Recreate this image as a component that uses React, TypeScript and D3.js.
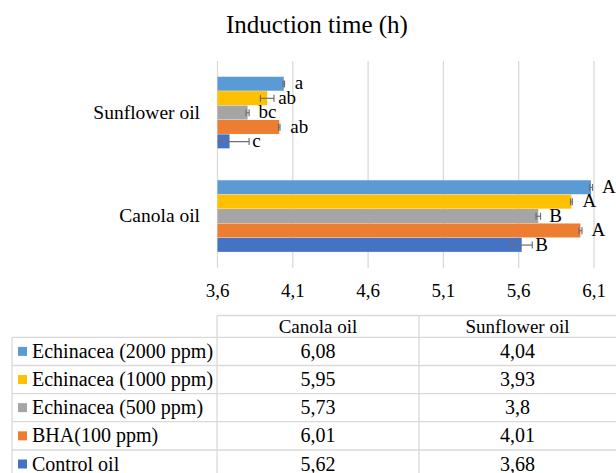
import React from 'react';
import * as d3 from 'd3';

// categories as drawn, top to bottom
const oils = ['Sunflower oil', 'Canola oil'];
// series, top to bottom within a group (same order as the table)
const treatments = ['Echinacea (2000 ppm)', 'Echinacea (1000 ppm)', 'Echinacea (500 ppm)', 'BHA(100 ppm)', 'Control oil'];
const colors = ['#5B9BD5', '#FFC000', '#A5A5A5', '#ED7D31', '#4472C4'];

const canolaValues = [6.08, 5.95, 5.73, 6.01, 5.62];
const sunflowerValues = [4.04, 3.93, 3.8, 4.01, 3.68];
const canolaErrors = [0.01, 0.006, 0.015, 0.01, 0.07];
const sunflowerErrors = [0.005, 0.045, 0.01, 0.005, 0.13];
const canolaLetters = ['A', 'A', 'B', 'A', 'B'];
const sunflowerLetters = ['a', 'ab', 'bc', 'ab', 'c'];

const canolaLabels = ['6,08', '5,95', '5,73', '6,01', '5,62'];
const sunflowerLabels = ['4,04', '3,93', '3,8', '4,01', '3,68'];

const xTicks = [3.6, 4.1, 4.6, 5.1, 5.6, 6.1];

const font = 'Liberation Serif';

function T(props) {
    const {children, ...rest} = props;
    return <text fontFamily={font} style={{fontFamily: font}} fill='#000' {...rest}>{children}</text>;
}

export default function App() {
    const width = 616, height = 473;
    const plot = {left: 217.5, right: 594, top: 61, bottom: 268};

    const x = d3.scaleLinear().domain([3.6, 6.1]).range([plot.left, plot.right]);
    const y = d3.scaleBand().domain(oils).range([plot.top, plot.bottom])
        .paddingInner(0.3043).paddingOuter(0.152);
    const sub = d3.scaleBand().domain(treatments).range([0, y.bandwidth()]);

    const dataFor = (oil) => oil === 'Canola oil'
        ? {vals: canolaValues, errs: canolaErrors, letters: canolaLetters}
        : {vals: sunflowerValues, errs: sunflowerErrors, letters: sunflowerLetters};

    const fmt = (v) => String(v).replace('.', ',');

    // table geometry
    const colX = [12, 217, 419, 616];
    const rowY = [315.5, 337.3, 365.5, 393.6, 421.7, 450, 478];
    const lineColor = '#d9d9d9';

    return (
        <div style={{fontFamily: font}}>
            <style>{'body{margin:0}'}</style>
            <svg width={width} height={height} style={{display: 'block', background: '#fff'}}>
                <T x={317} y={33} textAnchor='middle' fontSize={25}>Induction time (h)</T>

                {xTicks.map(t => (
                    <g key={t}>
                        <line x1={x(t)} x2={x(t)} y1={plot.top} y2={plot.bottom} stroke={lineColor} strokeWidth={1.3}/>
                        <T x={x(t)} y={297} textAnchor='middle' fontSize={19}>{fmt(t)}</T>
                    </g>
                ))}

                {oils.map(oil => {
                    const d = dataFor(oil);
                    const y0 = y(oil);
                    return (
                        <g key={oil}>
                            <T x={200} y={y0 + y.bandwidth() / 2 + 6} textAnchor='end' fontSize={19.5}>{oil}</T>
                            {treatments.map((tr, i) => {
                                const by = y0 + sub(tr);
                                const bh = sub.bandwidth();
                                const cy = by + bh / 2;
                                const v = d.vals[i], e = d.errs[i];
                                const lo = Math.max(x.domain()[0], v - e);
                                const labelX = Math.max(x(v) + 11, x(v + e) + 3);
                                return (
                                    <g key={tr}>
                                        <rect x={x(3.6)} y={by} width={x(v) - x(3.6)} height={bh - 0.4} fill={colors[i]}/>
                                        <line x1={x(lo)} x2={x(v + e)} y1={cy} y2={cy} stroke='#6f6f6f' strokeWidth={1.2}/>
                                        {v - e > x.domain()[0] &&
                                            <line x1={x(v - e)} x2={x(v - e)} y1={cy - 3.5} y2={cy + 3.5} stroke='#6f6f6f' strokeWidth={1.2}/>}
                                        <line x1={x(v + e)} x2={x(v + e)} y1={cy - 3.5} y2={cy + 3.5} stroke='#6f6f6f' strokeWidth={1.2}/>
                                        <T x={labelX} y={cy + 5.5} fontSize={19}>{d.letters[i]}</T>
                                    </g>
                                );
                            })}
                        </g>
                    );
                })}

                {/* data table */}
                <g stroke={lineColor} strokeWidth={1.3}>
                    <line x1={colX[1]} x2={colX[3]} y1={rowY[0]} y2={rowY[0]}/>
                    {rowY.slice(1, 6).map(ry => <line key={ry} x1={colX[0]} x2={colX[3]} y1={ry} y2={ry}/>)}
                    <line x1={colX[0]} x2={colX[0]} y1={rowY[1]} y2={rowY[6]}/>
                    <line x1={colX[1]} x2={colX[1]} y1={rowY[0]} y2={rowY[6]}/>
                    <line x1={colX[2]} x2={colX[2]} y1={rowY[0]} y2={rowY[6]}/>
                </g>
                <T x={(colX[1] + colX[2]) / 2} y={332.5} textAnchor='middle' fontSize={19}>Canola oil</T>
                <T x={(colX[2] + colX[3]) / 2} y={332.5} textAnchor='middle' fontSize={19}>Sunflower oil</T>
                {treatments.map((tr, i) => {
                    const ty = (rowY[i + 1] + rowY[i + 2]) / 2;
                    return (
                        <g key={tr}>
                            <rect x={18} y={ty - 4.5} width={9} height={9} fill={colors[i]}/>
                            <T x={32} y={ty + 6.5} fontSize={20}>{tr}</T>
                            <T x={(colX[1] + colX[2]) / 2} y={ty + 6.5} textAnchor='middle' fontSize={20}>{canolaLabels[i]}</T>
                            <T x={(colX[2] + colX[3]) / 2} y={ty + 6.5} textAnchor='middle' fontSize={20}>{sunflowerLabels[i]}</T>
                        </g>
                    );
                })}
            </svg>
        </div>
    );
}
